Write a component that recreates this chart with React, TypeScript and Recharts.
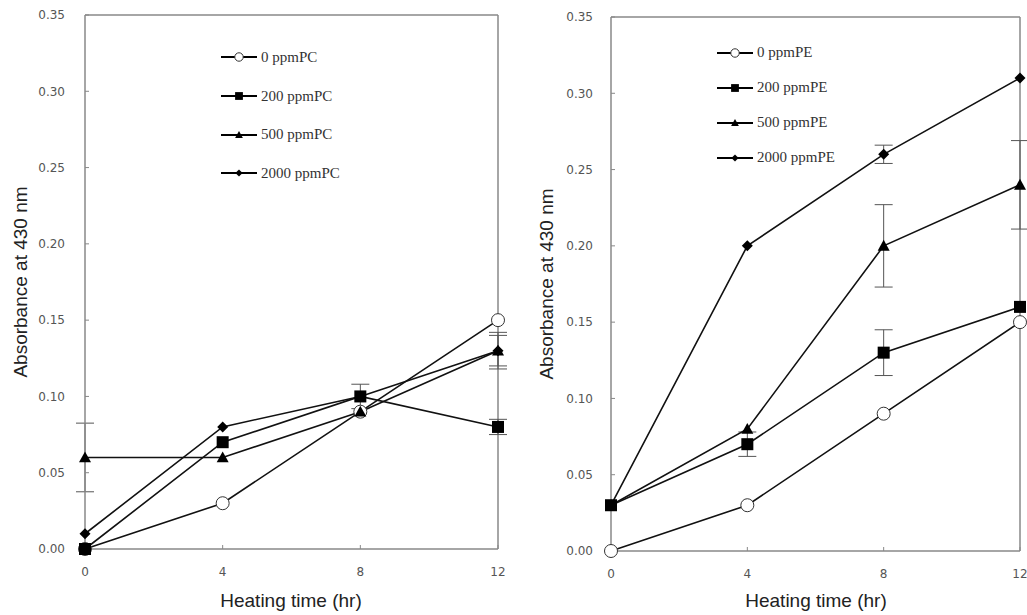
import React from "react";
import { LineChart, Line, XAxis, YAxis, ErrorBar, ReferenceLine, Legend } from "recharts";

const hours = [0, 4, 8, 12];
const yTicks = [0, 0.05, 0.1, 0.15, 0.2, 0.25, 0.3, 0.35];

// PC panel
const pcNames = ["0 ppmPC", "200 ppmPC", "500 ppmPC", "2000 ppmPC"];
const pc0 = [0, 0.03, 0.09, 0.15];
const pc200 = [0, 0.07, 0.1, 0.08];
const pc500 = [0.06, 0.06, 0.09, 0.13];
const pc2000 = [0.01, 0.08, 0.1, 0.13];
const pc0Err = [0, 0, 0, 0];
const pc200Err = [0, 0, 0.008, 0.005];
const pc500Err = [0.0225, 0, 0, 0.01];
const pc2000Err = [0, 0, 0, 0.012];

// PE panel
const peNames = ["0 ppmPE", "200 ppmPE", "500 ppmPE", "2000 ppmPE"];
const pe0 = [0, 0.03, 0.09, 0.15];
const pe200 = [0.03, 0.07, 0.13, 0.16];
const pe500 = [0.03, 0.08, 0.2, 0.24];
const pe2000 = [0.03, 0.2, 0.26, 0.31];
const pe0Err = [0, 0, 0, 0];
const pe200Err = [0, 0.008, 0.015, 0];
const pe500Err = [0, 0, 0.027, 0.029];
const pe2000Err = [0, 0, 0.006, 0];

const kinds = ["circle", "square", "triangle", "diamond"] as const;
type Kind = (typeof kinds)[number];

const buildRows = (series: number[][], errs: number[][]) =>
    hours.map((t, i) => {
        const row: Record<string, number> = { t };
        series.forEach((s, k) => {
            row[`s${k}`] = s[i];
            row[`e${k}`] = errs[k][i];
        });
        return row;
    });

const pcRows = buildRows([pc0, pc200, pc500, pc2000], [pc0Err, pc200Err, pc500Err, pc2000Err]);
const peRows = buildRows([pe0, pe200, pe500, pe2000], [pe0Err, pe200Err, pe500Err, pe2000Err]);

const Marker = ({ kind, cx, cy, s = 1 }: { kind: Kind; cx: number; cy: number; s?: number }) => {
    if (kind === "circle")
        return <circle cx={cx} cy={cy} r={6.5 * s} fill="#fff" stroke="#333" strokeWidth={1} />;
    if (kind === "square") {
        const h = 6 * s;
        return <rect x={cx - h} y={cy - h} width={2 * h} height={2 * h} fill="#000" />;
    }
    if (kind === "triangle") {
        const h = 6 * s;
        return <polygon points={`${cx},${cy - h} ${cx + h},${cy + h * 0.8} ${cx - h},${cy + h * 0.8}`} fill="#000" />;
    }
    const d = 5.5 * s;
    return <polygon points={`${cx},${cy - d} ${cx + d},${cy} ${cx},${cy + d} ${cx - d},${cy}`} fill="#000" />;
};

const makeLegend = (names: string[], rowH: number) => () => (
    <div style={{ fontFamily: "'Liberation Serif', serif", fontSize: 15, color: "#333" }}>
        {names.map((n, k) => (
            <div key={n} style={{ display: "flex", alignItems: "center", height: rowH }}>
                <svg width={40} height={14}>
                    <line x1={0} x2={36} y1={7} y2={7} stroke="#000" strokeWidth={2} />
                    <Marker kind={kinds[k]} cx={18} cy={7} s={0.65} />
                </svg>
                <span>{n}</span>
            </div>
        ))}
    </div>
);

const tickStyle = { fill: "#555", fontSize: 12, fontFamily: "'DejaVu Sans', sans-serif" };
const axisStroke = { stroke: "#888", strokeWidth: 1.5 };

interface PanelProps {
    rows: Record<string, number>[];
    names: string[];
    width: number;
    margin: { top: number; right: number; left: number; bottom: number };
    legendPos: { top: number; left: number };
    legendRow: number;
    yTickMargin: number;
}

const Panel = ({ rows, names, width, margin, legendPos, legendRow, yTickMargin }: PanelProps) => (
    <LineChart width={width} height={615} data={rows} margin={margin}>
        <XAxis
            type="number"
            dataKey="t"
            domain={[0, 12]}
            ticks={hours}
            height={30}
            tick={tickStyle}
            tickSize={-4}
            tickMargin={22}
            tickLine={{ stroke: "#888" }}
            axisLine={axisStroke}
        />
        <YAxis
            type="number"
            domain={[0, 0.35]}
            ticks={yTicks}
            width={60}
            tick={tickStyle}
            tickSize={-4}
            tickMargin={yTickMargin}
            tickLine={{ stroke: "#888" }}
            axisLine={axisStroke}
            tickFormatter={(v: number) => v.toFixed(2)}
        />
        <ReferenceLine y={0.35} stroke="#888" strokeWidth={1.5} />
        <ReferenceLine x={12} stroke="#888" strokeWidth={1.5} />
        {kinds.map((kind, k) => (
            <Line
                key={kind}
                dataKey={`s${k}`}
                stroke="#111"
                strokeWidth={1.6}
                isAnimationActive={false}
                activeDot={false}
                dot={(p: any) => (
                    <g key={`${kind}-${p.index}`}>
                        <Marker kind={kind} cx={p.cx} cy={p.cy} />
                    </g>
                )}
            >
                <ErrorBar dataKey={`e${k}`} width={9} stroke="#555" strokeWidth={1} direction="y" />
            </Line>
        ))}
        <Legend
            layout="vertical"
            align="center"
            verticalAlign="middle"
            content={makeLegend(names, legendRow)}
            wrapperStyle={{ position: "absolute", top: legendPos.top, left: legendPos.left, width: "auto" }}
        />
    </LineChart>
);

const titleStyle: React.CSSProperties = {
    position: "absolute",
    fontFamily: "'Liberation Sans', Arial, sans-serif",
    fontSize: 19,
    lineHeight: 1,
    color: "#222",
    whiteSpace: "nowrap",
};

export default function App() {
    return (
        <div style={{ position: "absolute", left: 0, top: 0, width: 1027, height: 615, background: "#fff", overflow: "hidden" }}>
            <div style={{ position: "absolute", left: 0, top: 0 }}>
                <Panel
                    rows={pcRows}
                    names={pcNames}
                    width={520}
                    margin={{ top: 15, right: 22, left: 25, bottom: 36 }}
                    legendPos={{ top: 38, left: 221 }}
                    legendRow={38.7}
                    yTickMargin={24}
                />
            </div>
            <div style={{ position: "absolute", left: 526, top: 0 }}>
                <Panel
                    rows={peRows}
                    names={peNames}
                    width={501}
                    margin={{ top: 17, right: 7, left: 25, bottom: 34 }}
                    legendPos={{ top: 35, left: 191 }}
                    legendRow={35}
                    yTickMargin={22}
                />
            </div>
            <div style={{ ...titleStyle, left: 291, top: 600, transform: "translate(-50%, -50%)" }}>Heating time (hr)</div>
            <div style={{ ...titleStyle, left: 816, top: 600, transform: "translate(-50%, -50%)" }}>Heating time (hr)</div>
            <div style={{ ...titleStyle, left: 20, top: 282, transform: "translate(-50%, -50%) rotate(-90deg)" }}>
                Absorbance at 430 nm
            </div>
            <div style={{ ...titleStyle, left: 546, top: 284, transform: "translate(-50%, -50%) rotate(-90deg)" }}>
                Absorbance at 430 nm
            </div>
        </div>
    );
}
